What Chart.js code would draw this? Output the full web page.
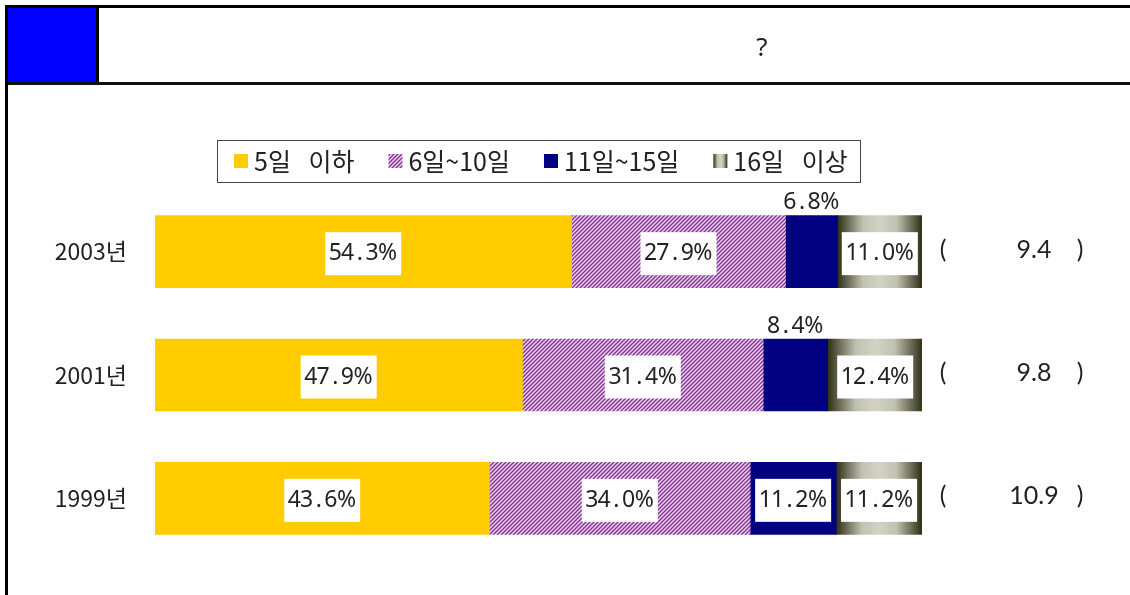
<!DOCTYPE html>
<html>
<head>
<meta charset="utf-8">
<script src="https://cdn.jsdelivr.net/npm/chart.js@4.4.1/dist/chart.umd.min.js"></script>
<style>
  html, body { margin: 0; padding: 0; background: #fff; }
  body { width: 1130px; height: 595px; position: relative; overflow: hidden; font-family: "Noto Sans CJK KR", sans-serif; }
  #chartWrap { position: absolute; left: 0; top: 0; width: 1130px; height: 595px; }
  .frameTop { position: absolute; left: 5px; top: 5px; width: 1125px; height: 3px; background: #000; }
  .frameLeft { position: absolute; left: 5px; top: 5px; width: 3px; height: 590px; background: #000; }
  .blueBox { position: absolute; left: 8px; top: 8px; width: 88px; height: 74px; background: #0000ff; }
  .divider { position: absolute; left: 96px; top: 8px; width: 3px; height: 75px; background: #000; }
  .headLine { position: absolute; left: 8px; top: 82px; width: 1122px; height: 3px; background: #111; }
  .title { position: absolute; left: 740px; top: 28px; width: 44px; text-align: center; font-size: 26px; color: #222; font-family: "Noto Sans", sans-serif; }
</style>
</head>
<body>
<div id="chartWrap"><canvas id="c" width="1130" height="595"></canvas></div>
<div class="frameTop"></div>
<div class="frameLeft"></div>
<div class="blueBox"></div>
<div class="divider"></div>
<div class="headLine"></div>
<div class="title">?</div>

<script>
// data
const years = ['2003년', '2001년', '1999년'];
const groups = ['5일 이하', '6일~10일', '11일~15일', '16일 이상'];
const upTo5 = [54.3, 47.9, 43.6];
const days6to10 = [27.9, 31.4, 34.0];
const days11to15 = [6.8, 8.4, 11.2];
const over16 = [11.0, 12.4, 11.2];
const avgDays = ['9.4', '9.8', '10.9'];

const seriesValues = [upTo5, days6to10, days11to15, over16];

// hatch pattern for 6~10
function makeHatch() {
  const p = document.createElement('canvas');
  p.width = 4; p.height = 4;
  const g = p.getContext('2d');
  g.fillStyle = '#ead8ee';
  g.fillRect(0, 0, 4, 4);
  g.strokeStyle = '#8a3598';
  g.lineWidth = 1.5;
  g.beginPath();
  g.moveTo(0, 4); g.lineTo(4, 0);
  g.moveTo(-1, 1); g.lineTo(1, -1);
  g.moveTo(3, 5); g.lineTo(5, 3);
  g.stroke();
  return g.createPattern(p, 'repeat');
}
const hatch = makeHatch();

function cylinder(ctx2d, x0, x1) {
  const gr = ctx2d.createLinearGradient(x0, 0, x1, 0);
  gr.addColorStop(0, '#2e2e16');
  gr.addColorStop(0.3, '#c2c2b2');
  gr.addColorStop(0.5, '#d2d2c6');
  gr.addColorStop(0.7, '#c2c2b2');
  gr.addColorStop(1, '#2e2e16');
  return gr;
}

function over16Fill(context) {
  const chart = context.chart;
  const xs = chart.scales.x;
  if (context.type !== 'data' || !xs) return '#9a9a88';
  const i = context.dataIndex;
  let start = 0;
  for (let k = 0; k < 3; k++) start += seriesValues[k][i];
  const x0 = xs.getPixelForValue(start);
  const x1 = xs.getPixelForValue(start + over16[i]);
  if (!isFinite(x0) || !isFinite(x1) || x1 <= x0) return '#9a9a88';
  return cylinder(chart.ctx, x0, x1);
}

const fills = ['#ffcc00', hatch, '#000080', over16Fill];

// gulim-like fixed cells for digits, '%' drawn after
function drawMono(ctx, text, cx, cy) {
  const cell = 12.2;
  const num = text.replace('%', '');
  const pctW = ctx.measureText('%').width;
  const w = cell * num.length + pctW;
  let x = cx - w / 2;
  ctx.textBaseline = 'middle';
  ctx.textAlign = 'center';
  for (const ch of num) {
    ctx.fillText(ch, x + cell / 2, cy);
    x += cell;
  }
  ctx.textAlign = 'left';
  ctx.fillText('%', x, cy);
}

const segmentLabels = {
  id: 'segmentLabels',
  afterDatasetsDraw(chart) {
    const ctx = chart.ctx;
    ctx.save();
    ctx.font = '23px "Noto Sans", sans-serif';
    chart.data.datasets.forEach((ds, di) => {
      const meta = chart.getDatasetMeta(di);
      meta.data.forEach((bar, i) => {
        const v = ds.data[i];
        const txt = v.toFixed(1) + '%';
        const left = Math.min(bar.x, bar.base), right = Math.max(bar.x, bar.base);
        const cx = (left + right) / 2;
        const boxW = 76, boxH = 43;
        if (right - left < boxW) {
          ctx.fillStyle = '#222';
          drawMono(ctx, txt, cx, bar.y - bar.height / 2 - 13);
        } else {
          ctx.fillStyle = '#fff';
          ctx.fillRect(cx - boxW / 2, bar.y + 2 - boxH / 2, boxW, boxH);
          ctx.fillStyle = '#222';
          drawMono(ctx, txt, cx, bar.y + 2);
        }
      });
    });
    // average days on the right
    const ys = chart.scales.y;
    ctx.font = '25px Lato, sans-serif';
    ctx.fillStyle = '#222';
    ctx.textBaseline = 'middle';
    avgDays.forEach((a, i) => {
      const y = ys.getPixelForValue(i) - 2;
      ctx.textAlign = 'center';
      ctx.fillText('(', 943, y);
      ctx.fillText(a, 1034, y);
      ctx.fillText(')', 1080, y);
    });
    ctx.restore();
  }
};

const boxLegend = {
  id: 'boxLegend',
  afterDraw(chart) {
    const ctx = chart.ctx;
    ctx.save();
    ctx.strokeStyle = '#444';
    ctx.lineWidth = 1;
    ctx.strokeRect(217.5, 140.5, 643, 42);
    ctx.font = '25px "Noto Sans CJK KR", sans-serif';
    ctx.wordSpacing = '12px';
    ctx.textAlign = 'left';
    ctx.textBaseline = 'middle';
    let x = 234;
    const cy = 161;
    chart.data.datasets.forEach((ds) => {
      const s = 14;
      let fill = ds.backgroundColor;
      if (typeof fill === 'function') fill = cylinder(ctx, x, x + s);
      ctx.fillStyle = fill;
      ctx.fillRect(x, cy - s / 2, s, s);
      ctx.fillStyle = '#222';
      const tx = x + s + 6;
      ctx.fillText(ds.label, tx, cy);
      x = tx + ctx.measureText(ds.label).width + 34;
    });
    ctx.restore();
  }
};

new Chart(document.getElementById('c'), {
  type: 'bar',
  data: {
    labels: years,
    datasets: groups.map((g, k) => ({
      label: g,
      data: seriesValues[k],
      backgroundColor: fills[k],
      borderWidth: 0,
      barThickness: 72
    }))
  },
  options: {
    indexAxis: 'y',
    responsive: false,
    animation: false,
    layout: { padding: { top: 190, bottom: 35, right: 208, left: 0 } },
    scales: {
      x: { stacked: true, min: 0, max: 100, display: false },
      y: {
        stacked: true,
        grid: { display: false },
        border: { display: false },
        ticks: { color: '#222', padding: 20, font: { size: 23, family: '"Noto Sans CJK KR", sans-serif' } },
        afterFit: (s) => { s.width = 155; }
      }
    },
    plugins: { legend: { display: false }, tooltip: { enabled: false } }
  },
  plugins: [segmentLabels, boxLegend]
});
</script>
</body>
</html>
